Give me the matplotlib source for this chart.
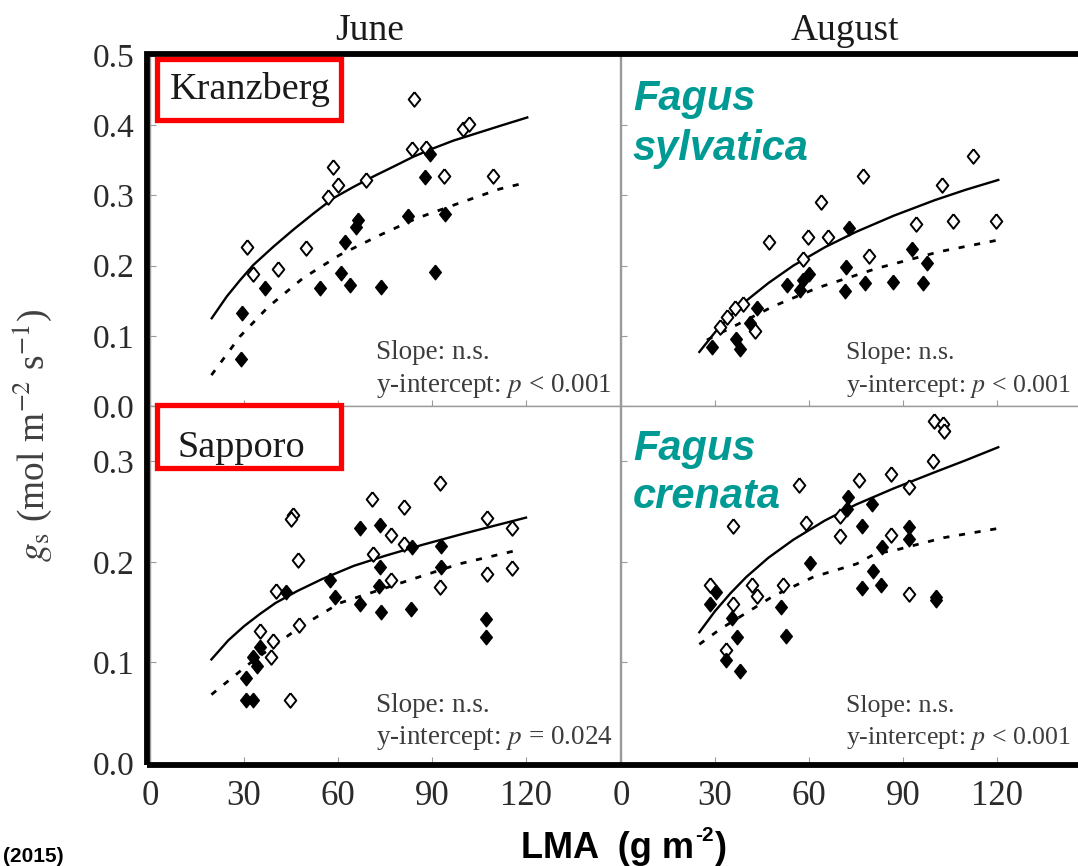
import matplotlib
matplotlib.use('Agg')
import matplotlib.pyplot as plt
from matplotlib.patches import Rectangle

plt.rcParams['font.family'] = ['Liberation Serif', 'DejaVu Serif']
plt.rcParams['mathtext.fontset'] = 'stix'

# --- data (LMA in g m-2, gs in mol m-2 s-1) ---
# Kranzberg, June
tl_open_x = [84.2, 58.4, 60.1, 56.8, 68.8, 83.7, 88.1, 99.8, 101.7, 93.9, 109.6, 31.0, 32.9, 40.9, 49.9]
tl_open_y = [0.437, 0.340, 0.315, 0.298, 0.322, 0.366, 0.367, 0.394, 0.402, 0.328, 0.327, 0.226, 0.188, 0.195, 0.225]
tl_fill_x = [89.4, 87.9, 66.3, 65.8, 62.1, 82.3, 94.3, 61.0, 63.9, 54.1, 73.8, 90.8, 36.6, 29.5, 29.0]
tl_fill_y = [0.359, 0.326, 0.265, 0.255, 0.233, 0.270, 0.274, 0.190, 0.172, 0.168, 0.170, 0.191, 0.168, 0.132, 0.067]
tl_solid_x = [19.7, 24.5, 28.7, 33.0, 39.4, 45.7, 52.1, 58.5, 64.9, 71.3, 77.7, 84.0, 90.4, 96.8, 103.2, 111.7, 120.4]
tl_solid_y = [0.125, 0.156, 0.179, 0.201, 0.227, 0.251, 0.274, 0.296, 0.312, 0.327, 0.341, 0.355, 0.367, 0.378, 0.387, 0.399, 0.411]
tl_dash_x = [19.6, 28.7, 37.7, 48.8, 60.5, 72.7, 84.9, 98.7, 111.5, 118.9]
tl_dash_y = [0.044, 0.099, 0.141, 0.182, 0.215, 0.242, 0.267, 0.289, 0.309, 0.317]

# Kranzberg, August
tr_open_x = [112.4, 77.3, 63.7, 102.6, 47.3, 59.8, 66.2, 94.2, 106.1, 119.7, 58.0, 79.3, 39.0, 36.4, 33.7, 31.6, 42.8]
tr_open_y = [0.356, 0.328, 0.290, 0.315, 0.233, 0.241, 0.241, 0.259, 0.264, 0.264, 0.209, 0.213, 0.146, 0.139, 0.127, 0.113, 0.107]
tr_fill_x = [72.9, 92.8, 97.6, 71.8, 60.1, 58.2, 52.9, 57.1, 77.9, 86.9, 96.3, 71.5, 43.3, 41.2, 36.7, 38.0, 29.0]
tr_fill_y = [0.253, 0.223, 0.203, 0.198, 0.188, 0.179, 0.172, 0.165, 0.175, 0.177, 0.175, 0.164, 0.139, 0.118, 0.095, 0.081, 0.084]
tr_solid_x = [25.0, 30.0, 35.0, 40.0, 47.0, 55.0, 65.0, 75.0, 87.0, 100.0, 110.0, 120.4]
tr_solid_y = [0.077, 0.105, 0.129, 0.150, 0.175, 0.200, 0.226, 0.248, 0.271, 0.293, 0.308, 0.322]
tr_dash_x = [27.4, 48.6, 62.5, 81.6, 101.8, 119.9]
tr_dash_y = [0.094, 0.142, 0.168, 0.196, 0.220, 0.236]

# Sapporo, June
bl_open_x = [92.4, 70.9, 81.2, 45.6, 45.0, 107.7, 115.5, 77.0, 81.2, 47.2, 71.1, 77.0, 40.3, 92.4, 107.7, 115.5, 47.5, 35.2, 39.3, 38.7, 44.6]
bl_open_y = [0.278, 0.263, 0.255, 0.247, 0.243, 0.244, 0.234, 0.227, 0.218, 0.202, 0.208, 0.182, 0.171, 0.175, 0.188, 0.194, 0.137, 0.131, 0.121, 0.105, 0.063]
bl_fill_x = [67.1, 73.5, 83.7, 92.9, 92.9, 73.5, 73.2, 57.5, 43.5, 59.2, 66.9, 73.8, 83.3, 107.2, 107.2, 35.2, 32.9, 34.0, 30.6, 30.6, 32.9]
bl_fill_y = [0.234, 0.237, 0.215, 0.216, 0.195, 0.195, 0.176, 0.182, 0.170, 0.165, 0.158, 0.150, 0.153, 0.143, 0.125, 0.115, 0.105, 0.096, 0.085, 0.063, 0.063]
bl_solid_x = [19.6, 25.0, 30.0, 35.0, 40.0, 47.0, 55.0, 65.0, 75.0, 87.0, 100.0, 110.0, 120.0]
bl_solid_y = [0.103, 0.122, 0.136, 0.148, 0.159, 0.171, 0.183, 0.196, 0.206, 0.217, 0.228, 0.236, 0.244]
bl_dash_x = [19.6, 25.5, 31.8, 47.8, 60.5, 84.9, 98.7, 117.8]
bl_dash_y = [0.068, 0.083, 0.099, 0.135, 0.159, 0.184, 0.198, 0.212]

# Sapporo, August
br_open_x = [99.9, 102.9, 103.1, 99.7, 92.0, 86.1, 76.1, 56.9, 69.9, 59.0, 35.8, 69.9, 86.1, 28.4, 41.7, 43.3, 51.8, 35.8, 92.0, 33.5]
br_open_y = [0.340, 0.337, 0.330, 0.300, 0.274, 0.287, 0.281, 0.276, 0.246, 0.239, 0.236, 0.226, 0.227, 0.177, 0.177, 0.166, 0.177, 0.158, 0.168, 0.112]
br_fill_x = [72.5, 72.2, 80.0, 76.8, 92.0, 92.0, 83.2, 60.3, 80.3, 76.8, 82.9, 100.5, 100.5, 30.3, 28.4, 51.0, 35.3, 36.9, 52.7, 33.5, 38.0]
br_fill_y = [0.265, 0.253, 0.258, 0.236, 0.235, 0.223, 0.215, 0.199, 0.191, 0.174, 0.177, 0.165, 0.162, 0.170, 0.158, 0.155, 0.144, 0.125, 0.126, 0.102, 0.091]
br_solid_x = [25.0, 30.0, 35.0, 40.0, 47.0, 55.0, 65.0, 75.0, 87.0, 100.0, 110.0, 120.4]
br_solid_y = [0.130, 0.151, 0.169, 0.185, 0.204, 0.222, 0.241, 0.257, 0.273, 0.289, 0.301, 0.314]
br_dash_x = [25.0, 31.6, 48.6, 61.4, 75.2, 81.1, 88.0, 102.9, 119.9]
br_dash_y = [0.118, 0.133, 0.166, 0.185, 0.198, 0.208, 0.212, 0.224, 0.233]

months = ['June', 'August']
sites = ['Kranzberg', 'Sapporo']
species = [['Fagus', 'sylvatica'], ['Fagus', 'crenata']]
pvals = [['y-intercept: $p$ < 0.001', 'y-intercept: $p$ < 0.001'],
         ['y-intercept: $p$ = 0.024', 'y-intercept: $p$ < 0.001']]
x_ticks = [0, 30, 60, 90, 120]
top_yticks = [0.0, 0.1, 0.2, 0.3, 0.4, 0.5]
bot_yticks = [0.0, 0.1, 0.2, 0.3]

W, H = 1078, 866
fig = plt.figure(figsize=(W / 100, H / 100), dpi=100)


def px_box(x0, y0, x1, y1):
    # pixel box (top-left origin) -> figure fraction rect
    return [x0 / W, (H - y1) / H, (x1 - x0) / W, (y1 - y0) / H]


ax_tl = fig.add_axes(px_box(150, 55, 620, 406))
ax_tr = fig.add_axes(px_box(621, 55, 1091, 406))
ax_bl = fig.add_axes(px_box(150, 406, 620, 763))
ax_br = fig.add_axes(px_box(621, 406, 1091, 763))

panels = [
    (ax_tl, tl_open_x, tl_open_y, tl_fill_x, tl_fill_y, tl_solid_x, tl_solid_y, tl_dash_x, tl_dash_y),
    (ax_tr, tr_open_x, tr_open_y, tr_fill_x, tr_fill_y, tr_solid_x, tr_solid_y, tr_dash_x, tr_dash_y),
    (ax_bl, bl_open_x, bl_open_y, bl_fill_x, bl_fill_y, bl_solid_x, bl_solid_y, bl_dash_x, bl_dash_y),
    (ax_br, br_open_x, br_open_y, br_fill_x, br_fill_y, br_solid_x, br_solid_y, br_dash_x, br_dash_y),
]

# slightly tall diamond, like the original symbols
diamond = [(0, 1), (0.8, 0), (0, -1), (-0.8, 0), (0, 1)]

for i, (ax, ox, oy, fx, fy, sx, sy, dx, dy) in enumerate(panels):
    row, col = divmod(i, 2)
    ax.plot(sx, sy, '-', color='black', lw=1.7, zorder=2)
    ax.plot(dx, dy, color='black', lw=2.0, ls=(0, (2.2, 3.5)), zorder=2)
    ax.plot(ox, oy, marker=diamond, ms=10.5, mfc='white', mec='black', mew=1.4, ls='none', zorder=3)
    ax.plot(fx, fy, marker=diamond, ms=10.5, mfc='black', mec='black', mew=1.0, ls='none', zorder=4)
    ax.set_xlim(0, 150)
    if row == 0:
        ax.set_ylim(0, 0.5)
        ax.set_yticks(top_yticks)
    else:
        ax.set_ylim(0, 0.355)
        ax.set_yticks(bot_yticks)
    ax.set_xticks(x_ticks)
    for s in ax.spines.values():
        s.set_color('#9a9a9a')
        s.set_linewidth(1.0)
    ax.tick_params(direction='in', length=4, color='#9a9a9a', labelsize=24,
                   labelcolor='#2a2a2a', pad=11)
    ax.tick_params(axis='x', labelsize=25, pad=12)
    if col == 1:
        ax.tick_params(axis='y', labelleft=False)
    if row == 0:
        ax.tick_params(axis='x', labelbottom=False)
    ax.set_yticklabels(['%.1f' % v for v in ax.get_yticks()])

    # significance text (right column sits against the picture edge)
    tx = 376 if col == 0 else 846
    fs = 19.5 if col == 0 else 18.6
    base1 = 359 if row == 0 else 712
    base2 = 392 if row == 0 else 744
    fig.text(tx / W, 1 - base1 / H, 'Slope: n.s.', fontsize=fs, color='#3c3c3c', va='baseline')
    fig.text(tx / W, 1 - base2 / H, pvals[row][col], fontsize=fs, color='#3c3c3c',
             va='baseline', math_fontfamily='stix')

# site labels in red boxes
for site, (bx0, by0, bx1, by1), (lx, ly) in zip(sites,
                                               [(157, 59, 341, 120), (157, 405, 341, 468)],
                                               [(170, 99), (177, 457)]):
    fig.patches.append(Rectangle((bx0 / W, 1 - by1 / H), (bx1 - bx0) / W, (by1 - by0) / H,
                                 transform=fig.transFigure, fill=False, edgecolor='#ff0000',
                                 lw=3.8, zorder=6))
    fig.text(lx / W, 1 - ly / H, site, fontsize=27.5, color='#1a1a1a', va='baseline', zorder=7)

# species labels
for (w1, w2), (b1, b2) in zip(species, [(110, 160), (460, 508)]):
    for word, b in [(w1, b1), (w2, b2)]:
        fig.text(633 / W, 1 - b / H, word, fontsize=30, color='#009a94', fontweight='bold',
                 fontstyle='italic', family=['Liberation Sans', 'DejaVu Sans'], va='baseline')

# thick outer frame
fig.patches.append(Rectangle((147 / W, 1 - 765 / H), (1110 - 147) / W, (765 - 54) / H,
                             transform=fig.transFigure, fill=False, edgecolor='black',
                             lw=4.2, zorder=5))

# month headers
fig.text(370 / W, 1 - 40 / H, months[0], fontsize=27, color='#1a1a1a', ha='center', va='baseline')
fig.text(845 / W, 1 - 40 / H, months[1], fontsize=27, color='#1a1a1a', ha='center', va='baseline')

# axis labels
fig.text(32 / W, 1 - 435 / H, r'$g_{\rm s}$ (mol m$^{-2}$ s$^{-1}$)', fontsize=27,
         color='#404040', rotation=90, ha='center', va='center')
bold_sans = dict(fontweight='bold', family=['Liberation Sans', 'DejaVu Sans'], color='black')
t1 = fig.text(521 / W, 1 - 858 / H, 'LMA  (g m', fontsize=26, va='baseline', **bold_sans)
t2 = ax_bl.annotate('-2', xy=(1, 0.6), xycoords=t1, xytext=(1, 0), textcoords='offset points',
                    fontsize=15, ha='left', va='bottom', annotation_clip=False, **bold_sans)
ax_bl.annotate(')', xy=(1, 0), xycoords=(t2, t1), xytext=(1, 0), textcoords='offset points',
               fontsize=26, ha='left', va='bottom', annotation_clip=False, **bold_sans)
fig.text(3 / W, 1 - 862 / H, '(2015)', fontsize=15, va='baseline', **bold_sans)

fig.savefig('out.png', dpi=100)
